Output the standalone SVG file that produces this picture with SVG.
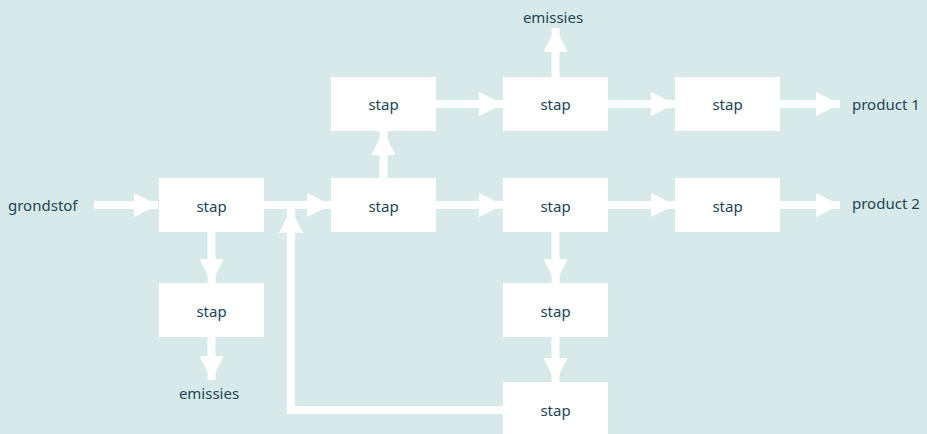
<svg xmlns="http://www.w3.org/2000/svg" width="927" height="434" viewBox="0 0 927 434">
<defs>
<marker id="ah" markerUnits="userSpaceOnUse" markerWidth="24" markerHeight="24" refX="24" refY="12" orient="auto" viewBox="0 0 24 24">
<path d="M0,0 L24,12 L0,24 Z" fill="#ffffff"/>
</marker>
<style>
.box{fill:#ffffff}
.t{font-family:"Noto Sans","Open Sans",sans-serif;font-size:15px;fill:#1c4556;text-anchor:middle;dominant-baseline:central}
.lbl{font-family:"Noto Sans","Open Sans",sans-serif;font-size:15px;fill:#1c4556;dominant-baseline:central}
.c{stroke:#ffffff;stroke-width:8;fill:none}
.a{marker-end:url(#ah)}
</style>
</defs>
<rect width="927" height="434" fill="#d7e9e9"/>
<g id="connectors">
<line class="c a" x1="94" y1="205" x2="158" y2="205"/>
<line class="c a" x1="264" y1="205" x2="331" y2="205"/>
<line class="c a" x1="436" y1="205" x2="503" y2="205"/>
<line class="c a" x1="608" y1="205" x2="675" y2="205"/>
<line class="c a" x1="780" y1="205" x2="840" y2="205"/>
<line class="c a" x1="436" y1="104" x2="503" y2="104"/>
<line class="c a" x1="608" y1="104" x2="675" y2="104"/>
<line class="c a" x1="780" y1="104" x2="840" y2="104"/>
<line class="c a" x1="383.5" y1="178" x2="383.5" y2="131"/>
<line class="c a" x1="555.5" y1="77" x2="555.5" y2="28"/>
<line class="c a" x1="211.5" y1="232" x2="211.5" y2="283"/>
<line class="c a" x1="211.5" y1="337" x2="211.5" y2="380"/>
<line class="c a" x1="555.5" y1="232" x2="555.5" y2="283"/>
<line class="c a" x1="555.5" y1="337" x2="555.5" y2="382"/>
<polyline class="c a" points="503,410 291,410 291,209"/>
</g>
<g id="in"><text class="lbl" x="8" y="205">grondstof</text></g>
<g id="n1"><rect class="box" x="159" y="178" width="105" height="54"/><text class="t" x="211.5" y="206">stap</text></g>
<g id="n2"><rect class="box" x="159" y="283" width="105" height="54"/><text class="t" x="211.5" y="311">stap</text></g>
<g id="em1"><text class="t" x="209" y="393">emissies</text></g>
<g id="n3"><rect class="box" x="331" y="178" width="105" height="54"/><text class="t" x="383.5" y="206">stap</text></g>
<g id="n4"><rect class="box" x="331" y="77" width="105" height="54"/><text class="t" x="383.5" y="104">stap</text></g>
<g id="n5"><rect class="box" x="503" y="77" width="105" height="54"/><text class="t" x="555.5" y="104">stap</text></g>
<g id="em2"><text class="t" x="553" y="17">emissies</text></g>
<g id="n6"><rect class="box" x="675" y="77" width="105" height="54"/><text class="t" x="727.5" y="104">stap</text></g>
<g id="p1"><text class="lbl" x="852" y="104">product 1</text></g>
<g id="n7"><rect class="box" x="503" y="178" width="105" height="54"/><text class="t" x="555.5" y="206">stap</text></g>
<g id="n8"><rect class="box" x="675" y="178" width="105" height="54"/><text class="t" x="727.5" y="206">stap</text></g>
<g id="p2"><text class="lbl" x="852" y="203">product 2</text></g>
<g id="n9"><rect class="box" x="503" y="283" width="105" height="54"/><text class="t" x="555.5" y="311">stap</text></g>
<g id="n10"><rect class="box" x="503" y="382" width="105" height="60"/><text class="t" x="555.5" y="410">stap</text></g>
</svg>
